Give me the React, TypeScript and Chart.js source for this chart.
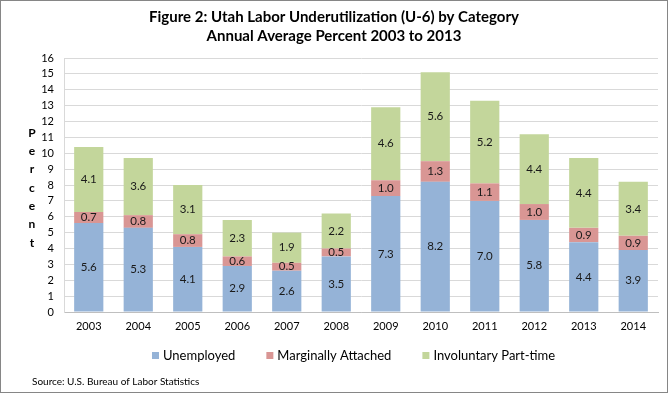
import React, { useEffect, useRef } from "react";
import { Chart, registerables } from "chart.js";

Chart.register(...registerables);

const categories = ["2003", "2004", "2005", "2006", "2007", "2008", "2009", "2010", "2011", "2012", "2013", "2014"];
const unemployed = [5.6, 5.3, 4.1, 2.9, 2.6, 3.5, 7.3, 8.2, 7.0, 5.8, 4.4, 3.9];
const marginallyAttached = [0.7, 0.8, 0.8, 0.6, 0.5, 0.5, 1.0, 1.3, 1.1, 1.0, 0.9, 0.9];
const involuntaryPartTime = [4.1, 3.6, 3.1, 2.3, 1.9, 2.2, 4.6, 5.6, 5.2, 4.4, 4.4, 3.4];
const seriesNames = ["Unemployed", "Marginally Attached", "Involuntary Part-time"];
const seriesColors = ["#95B3D7", "#D99694", "#C3D69B"];
const titleLines = ["Figure 2: Utah Labor Underutilization (U-6) by Category", "Annual Average Percent 2003 to 2013"];
const yAxisLabel = "Percent";
const sourceText = "Source: U.S. Bureau of Labor Statistics";
const yMin = 0;
const yMax = 16;
const yStep = 1;

const FONT = "Lato, 'Open Sans', sans-serif";
const W = 669;
const H = 394;

const decorPlugin = {
  id: "decor",
  beforeDraw(chart: any) {
    const ctx = chart.ctx;
    ctx.save();
    ctx.fillStyle = "#ffffff";
    ctx.fillRect(0, 0, W, H);
    ctx.restore();
  },
  afterDraw(chart: any) {
    const ctx = chart.ctx;
    ctx.save();
    // border
    ctx.strokeStyle = "#868686";
    ctx.lineWidth = 1;
    ctx.strokeRect(0.5, 0.5, W - 2, H - 2);
    // title
    ctx.fillStyle = "#000000";
    ctx.textAlign = "center";
    ctx.textBaseline = "middle";
    ctx.font = `bold 15px ${FONT}`;
    ctx.fillText(titleLines[0], 334, 17);
    ctx.fillText(titleLines[1], 334, 36);
    // y axis label, stacked letters
    ctx.font = `bold 12px ${FONT}`;
    const letters = yAxisLabel.split("");
    letters.forEach((ch, i) => {
      ctx.fillText(ch, 32, 133 + i * 18.3);
    });
    // legend
    ctx.font = `13px ${FONT}`;
    ctx.textAlign = "left";
    let x = 152;
    seriesNames.forEach((name, i) => {
      ctx.fillStyle = seriesColors[i];
      ctx.fillRect(x, 352, 7, 7);
      ctx.fillStyle = "#000000";
      ctx.fillText(name, x + 11, 356);
      x += 11 + ctx.measureText(name).width + 31;
    });
    // source
    ctx.font = `10px ${FONT}`;
    ctx.fillText(sourceText, 32, 382);
    ctx.restore();
  },
  afterDatasetsDraw(chart: any) {
    const ctx = chart.ctx;
    ctx.save();
    ctx.font = `11.5px ${FONT}`;
    ctx.fillStyle = "#1a1a1a";
    ctx.textAlign = "center";
    ctx.textBaseline = "middle";
    chart.data.datasets.forEach((ds: any, di: number) => {
      const meta = chart.getDatasetMeta(di);
      meta.data.forEach((bar: any, i: number) => {
        const v = ds.data[i];
        const cy = (bar.y + bar.base) / 2;
        ctx.fillText(Number(v).toFixed(1), bar.x, cy);
      });
    });
    ctx.restore();
  },
};

export default function App() {
  const ref = useRef<HTMLCanvasElement | null>(null);
  useEffect(() => {
    document.body.style.margin = "0";
    const canvas = ref.current!;
    const chart = new Chart(canvas, {
      type: "bar",
      data: {
        labels: categories,
        datasets: [
          { label: seriesNames[0], data: unemployed, backgroundColor: seriesColors[0] },
          { label: seriesNames[1], data: marginallyAttached, backgroundColor: seriesColors[1] },
          { label: seriesNames[2], data: involuntaryPartTime, backgroundColor: seriesColors[2] },
        ],
      },
      options: {
        responsive: false,
        animation: false,
        devicePixelRatio: 1,
        layout: { padding: { top: 58, right: 11, bottom: 62, left: 0 } },
        datasets: { bar: { categoryPercentage: 1, barPercentage: 0.59 } },
        plugins: {
          legend: { display: false },
          title: { display: false },
          tooltip: { enabled: false },
        },
        scales: {
          x: {
            stacked: true,
            grid: { display: false, drawTicks: false },
            border: { display: true, color: "#BFBFBF" },
            ticks: { font: { family: FONT, size: 11 }, color: "#000000", padding: 8, maxRotation: 0, autoSkip: false },
            afterFit: (s: any) => {
              s.height = 20;
            },
          },
          y: {
            stacked: true,
            min: yMin,
            max: yMax,
            ticks: { stepSize: yStep, autoSkip: false, font: { family: FONT, size: 11 }, color: "#000000", padding: 10 },
            grid: { color: "#D9D9D9", drawTicks: false },
            border: { display: true, color: "#D9D9D9" },
            afterFit: (s: any) => {
              s.width = 64;
            },
          },
        },
      },
      plugins: [decorPlugin],
    });
    return () => chart.destroy();
  }, []);
  return (
    <div style={{ position: "absolute", left: 0, top: 0, width: W, height: H }}>
      <canvas ref={ref} width={W} height={H} />
    </div>
  );
}
